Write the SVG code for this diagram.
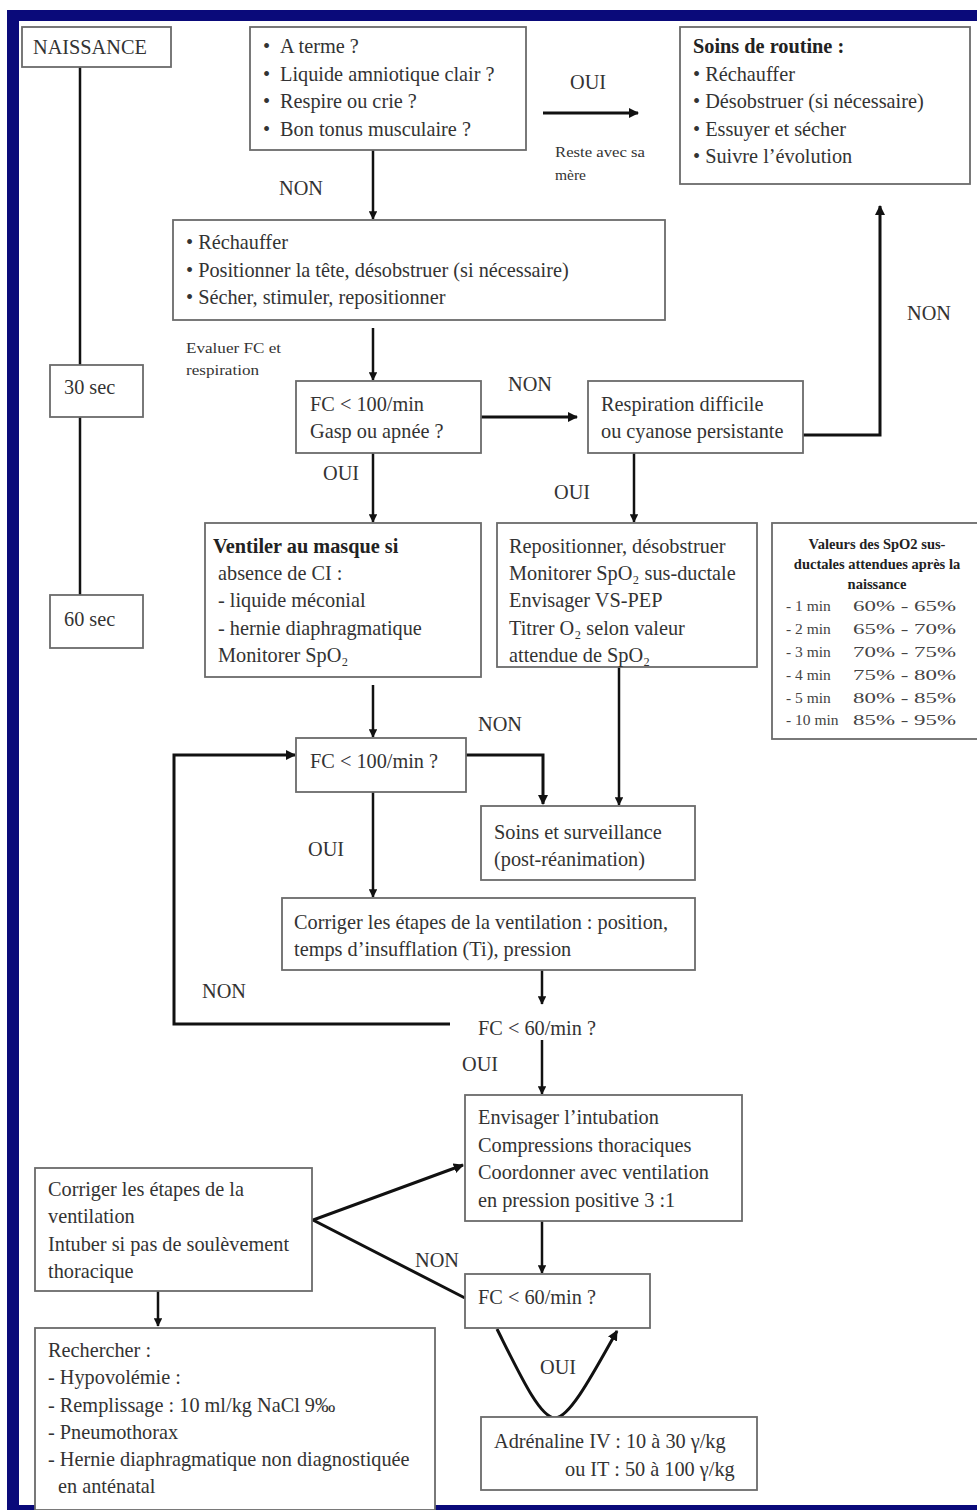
<svg xmlns="http://www.w3.org/2000/svg" width="977" height="1510" viewBox="0 0 977 1510">
<style>
text{font-family:"Liberation Serif","Times New Roman",serif;fill:#333;font-size:20.3px}
.b{font-weight:bold;fill:#222}
.s{font-size:15.5px}
.t{font-size:15.5px;fill:#444}
.tb{font-size:14.5px;font-weight:bold;fill:#222}
.box{fill:#fff;stroke:#6b6b6b;stroke-width:1.8}
.ln{fill:none;stroke:#111;stroke-width:3}
.tl{fill:none;stroke:#111;stroke-width:2.5}
</style>
<defs>
<marker id="ah" viewBox="0 0 10 10" refX="9" refY="5" markerWidth="3.4" markerHeight="3.4" orient="auto" markerUnits="strokeWidth">
<path d="M0,0 L10,5 L0,10 z" fill="#111"/>
</marker>
</defs>
<rect x="0" y="0" width="977" height="1510" fill="#fff"/>
<g id="frame" fill="#0a0a7a">
<rect x="7" y="10" width="970" height="11"/>
<rect x="7" y="10" width="12" height="1500"/>
<rect x="7" y="1505" width="970" height="5"/>
</g>

<g id="connectors">
<line class="tl" x1="80" y1="67" x2="80" y2="365"/>
<line class="tl" x1="80" y1="417" x2="80" y2="595"/>
<line class="ln" x1="543" y1="113" x2="638" y2="113" marker-end="url(#ah)"/>
<line class="tl" x1="373" y1="150" x2="373" y2="219" marker-end="url(#ah)"/>
<line class="tl" x1="373" y1="328" x2="373" y2="380" marker-end="url(#ah)"/>
<line class="ln" x1="481" y1="417" x2="577" y2="417" marker-end="url(#ah)"/>
<polyline class="ln" points="803,435 880,435 880,206" marker-end="url(#ah)"/>
<line class="tl" x1="373" y1="453" x2="373" y2="522" marker-end="url(#ah)"/>
<line class="tl" x1="634" y1="453" x2="634" y2="522" marker-end="url(#ah)"/>
<line class="tl" x1="373" y1="685" x2="373" y2="737" marker-end="url(#ah)"/>
<polyline class="ln" points="466,755 543,755 543,804" marker-end="url(#ah)"/>
<line class="tl" x1="619" y1="667" x2="619" y2="805" marker-end="url(#ah)"/>
<line class="tl" x1="373" y1="792" x2="373" y2="897" marker-end="url(#ah)"/>
<line class="tl" x1="542" y1="970" x2="542" y2="1004" marker-end="url(#ah)"/>
<polyline class="ln" points="450,1024 174,1024 174,755 295,755" marker-end="url(#ah)"/>
<line class="tl" x1="542" y1="1040" x2="542" y2="1094" marker-end="url(#ah)"/>
<line class="tl" x1="542" y1="1221" x2="542" y2="1273" marker-end="url(#ah)"/>
<polyline class="ln" points="465,1298 313,1220 463,1165" marker-end="url(#ah)"/>
<line class="tl" x1="158" y1="1291" x2="158" y2="1326" marker-end="url(#ah)"/>
<path class="ln" d="M497,1329 C520,1375 540,1418 555,1418 C570,1418 595,1370 617,1331" marker-end="url(#ah)"/>
</g>

<g id="labels">
<text x="570" y="89">OUI</text>
<text class="s" x="555" y="157" textLength="90" lengthAdjust="spacingAndGlyphs">Reste avec sa</text>
<text class="s" x="555" y="180">mère</text>
<text x="279" y="195">NON</text>
<text class="s" x="186" y="353" textLength="95" lengthAdjust="spacingAndGlyphs">Evaluer FC et</text>
<text class="s" x="186" y="375" textLength="73" lengthAdjust="spacingAndGlyphs">respiration</text>
<text x="508" y="391">NON</text>
<text x="907" y="320">NON</text>
<text x="323" y="480">OUI</text>
<text x="554" y="499">OUI</text>
<text x="478" y="731">NON</text>
<text x="308" y="856">OUI</text>
<text x="202" y="998">NON</text>
<text x="478" y="1035">FC &lt; 60/min ?</text>
<text x="462" y="1071">OUI</text>
<text x="415" y="1267">NON</text>
<text x="540" y="1374">OUI</text>
</g>

<g id="naissance"><rect class="box" x="22" y="27" width="149" height="40"/><text x="33" y="54">NAISSANCE</text></g>
<g id="t30"><rect class="box" x="50" y="365" width="93" height="52"/><text x="64" y="394">30 sec</text></g>
<g id="t60"><rect class="box" x="50" y="595" width="93" height="53"/><text x="64" y="626">60 sec</text></g>

<g id="q1"><rect class="box" x="250" y="27" width="276" height="123"/>
<text x="263" y="53">•<tspan x="280">A terme ?</tspan></text>
<text x="263" y="81">•<tspan x="280">Liquide amniotique clair ?</tspan></text>
<text x="263" y="108">•<tspan x="280">Respire ou crie ?</tspan></text>
<text x="263" y="136">•<tspan x="280">Bon tonus musculaire ?</tspan></text></g>

<g id="routine"><rect class="box" x="680" y="27" width="290" height="157"/>
<text class="b" x="693" y="53">Soins de routine :</text>
<text x="693" y="81">• Réchauffer</text>
<text x="693" y="108">• Désobstruer (si nécessaire)</text>
<text x="693" y="136">• Essuyer et sécher</text>
<text x="693" y="163">• Suivre l’évolution</text></g>

<g id="steps"><rect class="box" x="173" y="220" width="492" height="100"/>
<text x="186" y="249">• Réchauffer</text>
<text x="186" y="277">• Positionner la tête, désobstruer (si nécessaire)</text>
<text x="186" y="304">• Sécher, stimuler, repositionner</text></g>

<g id="fc100gasp"><rect class="box" x="296" y="381" width="185" height="72"/>
<text x="310" y="411">FC &lt; 100/min</text>
<text x="310" y="438">Gasp ou apnée ?</text></g>

<g id="respdiff"><rect class="box" x="588" y="381" width="215" height="72"/>
<text x="601" y="411">Respiration difficile</text>
<text x="601" y="438">ou cyanose persistante</text></g>

<g id="ventiler"><rect class="box" x="205" y="523" width="276" height="154"/>
<text class="b" x="213" y="553">Ventiler au masque si</text>
<text x="218" y="580">absence de CI :</text>
<text x="218" y="607">- liquide méconial</text>
<text x="218" y="635">- hernie diaphragmatique</text>
<text x="218" y="662">Monitorer SpO₂</text></g>

<g id="reposition"><rect class="box" x="497" y="523" width="260" height="144"/>
<text x="509" y="553">Repositionner, désobstruer</text>
<text x="509" y="580">Monitorer SpO₂ sus-ductale</text>
<text x="509" y="607">Envisager VS-PEP</text>
<text x="509" y="635">Titrer O₂ selon valeur</text>
<text x="509" y="662">attendue de SpO₂</text></g>

<g id="spo2table"><rect class="box" x="772" y="523" width="210" height="216"/>
<text class="tb" x="877" y="549" text-anchor="middle">Valeurs des SpO2 sus-</text>
<text class="tb" x="877" y="569" text-anchor="middle">ductales attendues après la</text>
<text class="tb" x="877" y="589" text-anchor="middle">naissance</text>
<text class="t" x="786" y="611">- 1 min</text><text class="t" x="853" y="611" textLength="103" lengthAdjust="spacingAndGlyphs">60% - 65%</text>
<text class="t" x="786" y="634">- 2 min</text><text class="t" x="853" y="634" textLength="103" lengthAdjust="spacingAndGlyphs">65% - 70%</text>
<text class="t" x="786" y="657">- 3 min</text><text class="t" x="853" y="657" textLength="103" lengthAdjust="spacingAndGlyphs">70% - 75%</text>
<text class="t" x="786" y="680">- 4 min</text><text class="t" x="853" y="680" textLength="103" lengthAdjust="spacingAndGlyphs">75% - 80%</text>
<text class="t" x="786" y="703">- 5 min</text><text class="t" x="853" y="703" textLength="103" lengthAdjust="spacingAndGlyphs">80% - 85%</text>
<text class="t" x="786" y="725">- 10 min</text><text class="t" x="853" y="725" textLength="103" lengthAdjust="spacingAndGlyphs">85% - 95%</text></g>

<g id="fc100"><rect class="box" x="296" y="738" width="170" height="54"/>
<text x="310" y="768">FC &lt; 100/min ?</text></g>

<g id="soins"><rect class="box" x="481" y="806" width="214" height="74"/>
<text x="494" y="839">Soins et surveillance</text>
<text x="494" y="866">(post-réanimation)</text></g>

<g id="corriger"><rect class="box" x="282" y="898" width="413" height="72"/>
<text x="294" y="929">Corriger les étapes de la ventilation : position,</text>
<text x="294" y="956">temps d’insufflation (Ti), pression</text></g>

<g id="envisager"><rect class="box" x="465" y="1095" width="277" height="126"/>
<text x="478" y="1124">Envisager l’intubation</text>
<text x="478" y="1152">Compressions thoraciques</text>
<text x="478" y="1179">Coordonner avec ventilation</text>
<text x="478" y="1207">en pression positive 3 :1</text></g>

<g id="fc60"><rect class="box" x="465" y="1274" width="185" height="54"/>
<text x="478" y="1304">FC &lt; 60/min ?</text></g>

<g id="corriger2"><rect class="box" x="35" y="1168" width="277" height="123"/>
<text x="48" y="1196">Corriger les étapes de la</text>
<text x="48" y="1223">ventilation</text>
<text x="48" y="1251">Intuber si pas de soulèvement</text>
<text x="48" y="1278">thoracique</text></g>

<g id="rechercher"><rect class="box" x="35" y="1328" width="400" height="182"/>
<text x="48" y="1357">Rechercher :</text>
<text x="48" y="1384">- Hypovolémie :</text>
<text x="48" y="1412">- Remplissage : 10 ml/kg NaCl 9‰</text>
<text x="48" y="1439">- Pneumothorax</text>
<text x="48" y="1466">- Hernie diaphragmatique non diagnostiquée</text>
<text x="58" y="1493">en anténatal</text></g>

<g id="adrenaline"><rect class="box" x="481" y="1417" width="276" height="73"/>
<text x="494" y="1448">Adrénaline IV : 10 à 30 γ/kg</text>
<text x="565" y="1476">ou IT : 50 à 100 γ/kg</text></g>
</svg>
